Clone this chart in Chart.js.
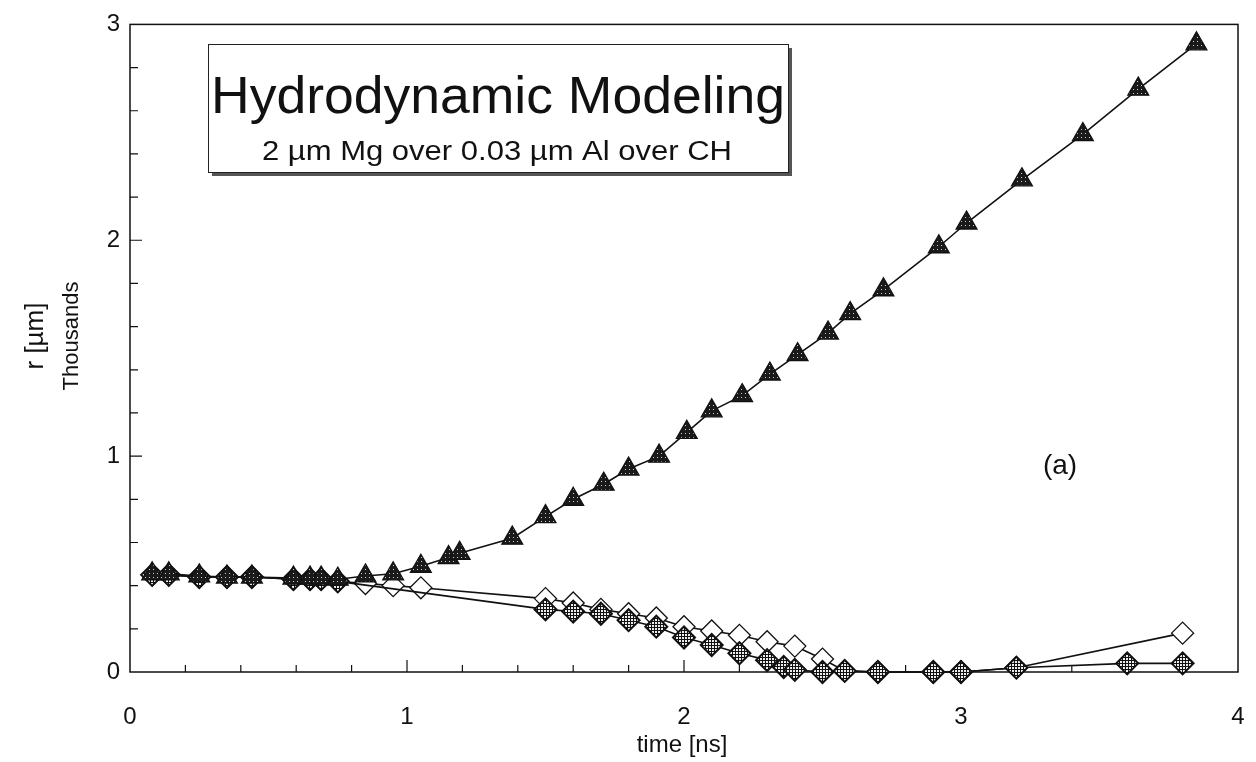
<!DOCTYPE html>
<html lang="en">
<head>
    <meta charset="UTF-8">
    <title>Hydrodynamic Modeling</title>
    <style>
        body {
            margin: 0;
            background-color: #fff;
            font-family: "Liberation Sans", Arial, sans-serif;
        }
        .chart-box {
            width: 1256px;
            height: 762px;
            position: relative;
        }
    </style>
</head>
<body>
    <div class="chart-box">
        <canvas id="lineChart"></canvas>
    </div>

    <script src="https://cdn.jsdelivr.net/npm/chart.js"></script>
    <script>
// time [ns] and radius [thousands of µm]
const triTime = [0.08, 0.14, 0.25, 0.35, 0.44, 0.59, 0.65, 0.69, 0.75, 0.85, 0.95, 1.05, 1.15, 1.19, 1.38,
    1.5, 1.6, 1.71, 1.8, 1.91, 2.01, 2.1, 2.21, 2.31, 2.41, 2.52, 2.6, 2.72, 2.92, 3.02, 3.22, 3.44, 3.64, 3.85];
const triRadius = [0.455, 0.455, 0.445, 0.44, 0.44, 0.435, 0.435, 0.435, 0.43, 0.445, 0.455, 0.49, 0.53, 0.55, 0.62,
    0.72, 0.80, 0.87, 0.94, 1.00, 1.11, 1.21, 1.28, 1.38, 1.47, 1.57, 1.66, 1.77, 1.97, 2.08, 2.28, 2.49, 2.70, 2.91];

const openTime = [0.08, 0.14, 0.25, 0.35, 0.44, 0.59, 0.65, 0.69, 0.75, 0.85, 0.95, 1.05,
    1.5, 1.6, 1.7, 1.8, 1.9, 2.0, 2.1, 2.2, 2.3, 2.4, 2.5, 2.58, 2.7, 2.9, 3.0, 3.2, 3.8];
const openRadius = [0.45, 0.45, 0.44, 0.44, 0.44, 0.43, 0.43, 0.43, 0.42, 0.41, 0.40, 0.39,
    0.34, 0.32, 0.29, 0.27, 0.25, 0.21, 0.19, 0.17, 0.14, 0.12, 0.06, 0.005, 0, 0, 0, 0.02, 0.18];

const hatchTime = [0.08, 0.14, 0.25, 0.35, 0.44, 0.59, 0.65, 0.69, 0.75,
    1.5, 1.6, 1.7, 1.8, 1.9, 2.0, 2.1, 2.2, 2.3, 2.36, 2.4, 2.5, 2.58, 2.7, 2.9, 3.0, 3.2, 3.6, 3.8];
const hatchRadius = [0.45, 0.45, 0.44, 0.44, 0.44, 0.43, 0.43, 0.43, 0.42,
    0.29, 0.28, 0.27, 0.24, 0.21, 0.16, 0.125, 0.087, 0.055, 0.023, 0.01, 0, 0.005, 0, 0, 0, 0.02, 0.04, 0.04];

const xTicks = [0, 1, 2, 3, 4];
const yTicks = [0, 1, 2, 3];

const titleText = 'Hydrodynamic Modeling';
const subtitleText = '2 µm Mg over 0.03 µm Al over CH';

function toPoints(xs, ys) {
    return xs.map((x, i) => ({ x: x, y: ys[i] }));
}

// speckled fills like the halftone markers in the scan
function makePattern(size, bg, fg, cells) {
    const c = document.createElement('canvas');
    c.width = size;
    c.height = size;
    const g = c.getContext('2d');
    g.fillStyle = bg;
    g.fillRect(0, 0, size, size);
    g.fillStyle = fg;
    cells.forEach(p => g.fillRect(p[0], p[1], p[2], p[3]));
    return g.createPattern(c, 'repeat');
}

const dotFill = makePattern(4, '#1a1a1a', '#cfcfcf', [[1, 1, 1, 1]]);
const gridFill = makePattern(3, '#eeeeee', '#111', [[0, 0, 3, 1], [0, 0, 1, 3]]);

const font = '"Liberation Sans", Arial, sans-serif';

// text squeezed or stretched to a given width, as in the scan
function fitText(ctx, text, cx, y, width) {
    const w = ctx.measureText(text).width;
    ctx.save();
    ctx.translate(cx, y);
    ctx.scale(width / w, 1);
    ctx.fillText(text, 0, 0);
    ctx.restore();
}

// frame with inward tick marks, title box and labels
const framePlugin = {
    id: 'frame',
    beforeDatasetsDraw(chart) {
        const { ctx, chartArea: a, scales } = chart;
        ctx.save();
        ctx.strokeStyle = '#111';
        ctx.lineWidth = 1.5;
        ctx.strokeRect(a.left, a.top, a.right - a.left, a.bottom - a.top);
        ctx.lineWidth = 1.2;
        ctx.beginPath();
        for (let i = 1; i < 20; i++) {
            const px = scales.x.getPixelForValue(i * 0.2);
            const len = i % 5 === 0 ? 12 : 7;
            ctx.moveTo(px, a.bottom);
            ctx.lineTo(px, a.bottom - len);
        }
        for (let i = 1; i < 15; i++) {
            const py = scales.y.getPixelForValue(i * 0.2);
            const len = i % 5 === 0 ? 12 : 8;
            ctx.moveTo(a.left, py);
            ctx.lineTo(a.left + len, py);
        }
        ctx.stroke();
        ctx.restore();
    },
    afterDraw(chart) {
        const { ctx } = chart;
        ctx.save();
        const bx = 208, by = 44, bw = 580, bh = 128;
        ctx.fillStyle = '#555';
        ctx.fillRect(bx + 4, by + 4, bw, bh);
        ctx.fillStyle = '#fff';
        ctx.fillRect(bx, by, bw, bh);
        ctx.strokeStyle = '#222';
        ctx.lineWidth = 1;
        ctx.strokeRect(bx + 0.5, by + 0.5, bw, bh);

        ctx.fillStyle = '#111';
        ctx.textAlign = 'center';
        ctx.textBaseline = 'alphabetic';
        ctx.font = '52px ' + font;
        fitText(ctx, titleText, 498, 113, 574);
        ctx.font = '27px ' + font;
        fitText(ctx, subtitleText, 497, 160, 470);

        ctx.font = '28px ' + font;
        ctx.fillText('(a)', 1060, 474);

        ctx.font = '24px ' + font;
        ctx.fillText('time [ns]', 682, 752);
        ctx.save();
        ctx.translate(43, 336);
        ctx.rotate(-Math.PI / 2);
        ctx.font = '26px ' + font;
        ctx.fillText('r [µm]', 0, 0);
        ctx.font = '22px ' + font;
        ctx.fillText('Thousands', 0, 35);
        ctx.restore();
        ctx.restore();
    }
};

const lineBase = {
    showLine: true,
    borderColor: '#111',
    borderWidth: 1.6,
    tension: 0,
    pointBorderColor: '#111',
    pointBorderWidth: 1.3
};

new Chart(document.getElementById('lineChart').getContext('2d'), {
    type: 'scatter',
    data: {
        datasets: [
            Object.assign({}, lineBase, {
                label: 'outer',
                data: toPoints(triTime, triRadius),
                pointStyle: 'triangle',
                pointRadius: 12,
                pointBackgroundColor: dotFill,
                order: 0
            }),
            Object.assign({}, lineBase, {
                label: 'open',
                data: toPoints(openTime, openRadius),
                pointStyle: 'rectRot',
                pointRadius: 11,
                pointBackgroundColor: '#fff',
                order: 2
            }),
            Object.assign({}, lineBase, {
                label: 'hatched',
                data: toPoints(hatchTime, hatchRadius),
                pointStyle: 'rectRot',
                pointRadius: 11,
                pointBackgroundColor: gridFill,
                pointBorderWidth: 2,
                order: 1
            })
        ]
    },
    options: {
        responsive: true,
        maintainAspectRatio: false,
        animation: false,
        clip: false,
        layout: { padding: { top: 20, right: 0, left: 0, bottom: 0 } },
        plugins: {
            legend: { display: false },
            tooltip: { enabled: false }
        },
        scales: {
            x: {
                type: 'linear',
                min: 0,
                max: 4,
                afterFit: s => { s.height = 90; s.paddingRight = 18; },
                afterBuildTicks: s => { s.ticks = xTicks.map(v => ({ value: v })); },
                grid: { display: false, drawTicks: false },
                border: { display: false },
                ticks: {
                    padding: 31,
                    color: '#111',
                    font: { family: font, size: 24 },
                    maxRotation: 0
                }
            },
            y: {
                type: 'linear',
                min: 0,
                max: 3,
                afterFit: s => { s.width = 130; },
                afterBuildTicks: s => { s.ticks = yTicks.map(v => ({ value: v })); },
                grid: { display: false, drawTicks: false },
                border: { display: false },
                ticks: {
                    padding: 10,
                    color: '#111',
                    font: { family: font, size: 24 }
                }
            }
        }
    },
    plugins: [framePlugin]
});
    </script>
</body>
</html>
